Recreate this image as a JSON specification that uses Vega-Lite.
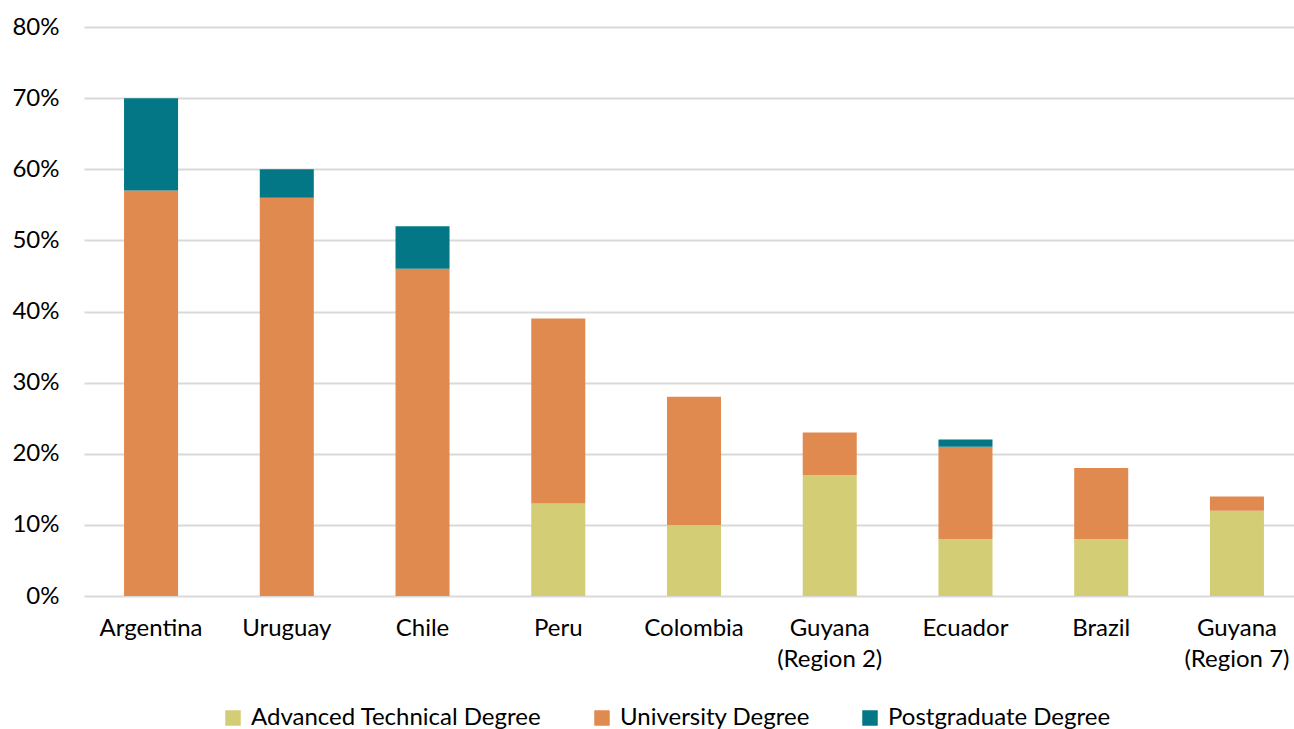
{
  "$schema": "https://vega.github.io/schema/vega-lite/v6.json",
  "autosize": "none",
  "padding": {"left": 84, "top": 27, "right": 0, "bottom": 133},
  "width": 1220,
  "height": 569,
  "background": "white",
  "data": {
    "values": [
      {"country": "Argentina", "type": "University Degree", "value": 57},
      {"country": "Argentina", "type": "Postgraduate Degree", "value": 13},
      {"country": "Uruguay", "type": "University Degree", "value": 56},
      {"country": "Uruguay", "type": "Postgraduate Degree", "value": 4},
      {"country": "Chile", "type": "University Degree", "value": 46},
      {"country": "Chile", "type": "Postgraduate Degree", "value": 6},
      {"country": "Peru", "type": "Advanced Technical Degree", "value": 13},
      {"country": "Peru", "type": "University Degree", "value": 26},
      {"country": "Colombia", "type": "Advanced Technical Degree", "value": 10},
      {"country": "Colombia", "type": "University Degree", "value": 18},
      {"country": "Guyana|(Region 2)", "type": "Advanced Technical Degree", "value": 17},
      {"country": "Guyana|(Region 2)", "type": "University Degree", "value": 6},
      {"country": "Ecuador", "type": "Advanced Technical Degree", "value": 8},
      {"country": "Ecuador", "type": "University Degree", "value": 13},
      {"country": "Ecuador", "type": "Postgraduate Degree", "value": 1},
      {"country": "Brazil", "type": "Advanced Technical Degree", "value": 8},
      {"country": "Brazil", "type": "University Degree", "value": 10},
      {"country": "Guyana|(Region 7)", "type": "Advanced Technical Degree", "value": 12},
      {"country": "Guyana|(Region 7)", "type": "University Degree", "value": 2}
    ]
  },
  "transform": [
    {"calculate": "indexof(['Advanced Technical Degree','University Degree','Postgraduate Degree'], datum.type)", "as": "ord"}
  ],
  "mark": {"type": "bar"},
  "encoding": {
    "x": {
      "field": "country",
      "type": "nominal",
      "sort": null,
      "scale": {"paddingInner": 0.602, "paddingOuter": 0.295},
      "axis": {
        "title": null,
        "labelAngle": 0,
        "domain": false,
        "ticks": false,
        "labelPadding": 20,
        "labelFont": "Lato",
        "labelFontSize": 24,
        "labelColor": "#000000",
        "labelLineHeight": 31,
        "labelLimit": 300,
        "labelExpr": "split(datum.label, '|')"
      }
    },
    "y": {
      "field": "value",
      "type": "quantitative",
      "aggregate": "sum",
      "stack": "zero",
      "scale": {"domain": [0, 80]},
      "axis": {
        "title": null,
        "values": [0, 10, 20, 30, 40, 50, 60, 70, 80],
        "labelExpr": "datum.value + '%'",
        "domain": false,
        "ticks": false,
        "labelPadding": 25,
        "labelFont": "Lato",
        "labelFontSize": 24,
        "labelColor": "#000000",
        "gridColor": "#d9d9d9",
        "gridWidth": 2
      }
    },
    "order": {"field": "ord", "type": "quantitative", "aggregate": "min"},
    "color": {
      "field": "type",
      "type": "nominal",
      "scale": {
        "domain": ["Advanced Technical Degree", "University Degree", "Postgraduate Degree"],
        "range": ["#D3CD75", "#E08A50", "#047786"]
      },
      "legend": {
        "title": null,
        "orient": "none",
        "direction": "horizontal",
        "legendX": 137,
        "legendY": 679,
        "symbolType": "square",
        "symbolSize": 240,
        "symbolStrokeWidth": 0,
        "labelFont": "Lato",
        "labelFontSize": 24,
        "labelColor": "#000000",
        "labelLimit": 500,
        "labelOffset": 6,
        "columnPadding": 48
      }
    }
  },
  "config": {
    "view": {"stroke": null}
  }
}
